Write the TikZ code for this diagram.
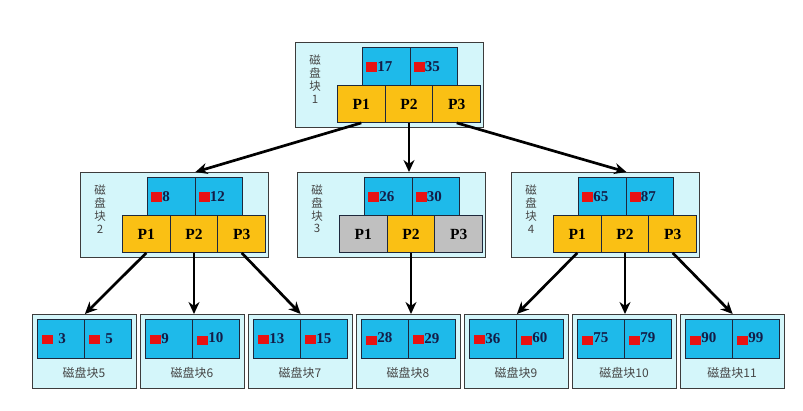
\documentclass[tikz,border=0pt]{standalone}
\usepackage{fontspec}
\setmainfont{Liberation Serif}
\newfontfamily\cjk{Noto Sans CJK SC}
\usetikzlibrary{calc,arrows.meta}
\definecolor{diskbg}{RGB}{212,246,250}
\definecolor{diskline}{RGB}{60,60,60}
\definecolor{cellline}{RGB}{30,40,60}
\definecolor{keyblue}{RGB}{30,186,234}
\definecolor{pyellow}{RGB}{250,192,20}
\definecolor{pgray}{RGB}{192,192,192}
\definecolor{keyred}{RGB}{232,18,18}
\definecolor{numtext}{RGB}{20,28,70}
\definecolor{labgray}{RGB}{70,70,70}
\newcommand{\rsq}{\textcolor{keyred}{\rule[-0.5pt]{11pt}{9.5pt}}}
\newcommand{\rsqlow}{\textcolor{keyred}{\rule[-3pt]{11pt}{9.5pt}}}
\newcommand{\midblock}[8]{%
  \node[disk, minimum width=188pt, minimum height=85pt] (#1) at (#2,#3) {};
  \node[vlab] (#1lab) at ($(#1.north west)+(20,37)$) {磁\\盘\\块\\#4};
  \node[keycell] (#1k1) at ($(#1.north west)+(67,5)$) {\rsq#5};
  \node[keycell] (#1k2) at ($(#1.north west)+(114.5,5)$) {\rsq#6};
  \node[pcell, fill=#7] (#1p1) at ($(#1.north west)+(42,43)$) {P1};
  \node[pcell, fill=pyellow] (#1p2) at ($(#1.north west)+(89.7,43)$) {P2};
  \node[pcell, fill=#8] (#1p3) at ($(#1.north west)+(137.4,43)$) {P3};
}
\newcommand{\leafblock}[5]{%
  \node[disk, minimum width=104pt, minimum height=74pt] (#1) at (#2,314) {};
  \node[leafcell] (#1k1) at ($(#1.north west)+(5,5)$) {#4};
  \node[leafcell] (#1k2) at ($(#1.north west)+(52,5)$) {#5};
  \node[leaflab] (#1lab) at ($(#1.north west)+(52,59)$) {磁盘块#3};
}
\begin{document}
\begin{tikzpicture}[x=1pt,y=-1pt,
  disk/.style={draw=diskline, line width=1.3pt, fill=diskbg, anchor=north west, inner sep=0pt},
  keycell/.style={draw=cellline, line width=0.9pt, fill=keyblue, anchor=north west,
    minimum height=38pt, text width=39.5pt, inner xsep=4pt, inner ysep=0pt, align=left,
    font=\fontsize{15}{16}\selectfont\bfseries, text=numtext},
  leafcell/.style={draw=cellline, line width=0.9pt, fill=keyblue, anchor=north west,
    minimum height=39pt, text width=37pt, inner xsep=5pt, inner ysep=0pt, align=left,
    font=\fontsize{15}{16}\selectfont\bfseries, text=numtext},
  pcell/.style={draw=cellline, line width=0.9pt, anchor=north west, minimum width=47.7pt,
    minimum height=37pt, inner sep=0pt, font=\fontsize{15.5}{16}\selectfont\bfseries, text=black},
  vlab/.style={align=center, inner sep=0pt, text=labgray, font=\cjk\fontsize{11.5}{12.8}\selectfont},
  leaflab/.style={inner sep=0pt, text=labgray, font=\cjk\fontsize{12}{13}\selectfont},
  arr/.style={line width=2.7pt, -{Stealth[length=12pt,width=11pt]}}]
\useasboundingbox[fill=white] (0,0) rectangle (803,411);
% root
\midblock{n1}{295}{42}{1}{17}{35}{pyellow}{pyellow}
% second level
\midblock{n2}{80}{172}{2}{8}{12}{pyellow}{pyellow}
\midblock{n3}{297}{172}{3}{26}{30}{pgray}{pgray}
\midblock{n4}{511}{172}{4}{65}{87}{pyellow}{pyellow}
% leaves
\leafblock{l5}{32}{5}{\rsq\ 3}{\rsq\ 5}
\leafblock{l6}{140}{6}{\rsq9}{\rsqlow10}
\leafblock{l7}{248}{7}{\rsq13}{\rsq15}
\leafblock{l8}{356}{8}{\rsqlow28}{\rsq29}
\leafblock{l9}{464}{9}{\rsq36}{\rsqlow60}
\leafblock{l10}{572}{10}{\rsqlow75}{\rsqlow79}
\leafblock{l11}{680}{11}{\rsqlow90}{\rsqlow99}
% arrows
\draw[arr] (n1p1.south) -- (n2k1.north east |- n2.north);
\draw[arr] (n1p2.south) -- (n1p2.south |- n3.north);
\draw[arr] (n1p3.south) -- (n4k1.north east |- n4.north);
\draw[arr] (n2p1.south) -- (l5k1.north east |- l5.north);
\draw[arr] (n2p2.south) -- (n2p2.south |- l6.north);
\draw[arr] (n2p3.south) -- (l7.north);
\draw[arr] (n3p2.south) -- (n3p2.south |- l8.north);
\draw[arr] (n4p1.south) -- (l9k1.north east |- l9.north);
\draw[arr] (n4p2.south) -- (n4p2.south |- l10.north);
\draw[arr] (n4p3.south) -- (l11.north);
\end{tikzpicture}
\end{document}
